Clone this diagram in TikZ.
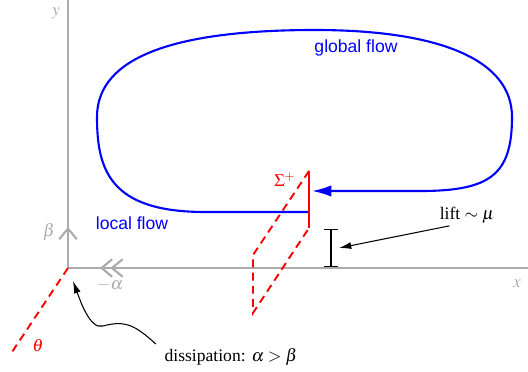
\documentclass[tikz,border=0pt]{standalone}
\usepackage{mathptmx}
\usepackage{fontspec}
\setmainfont{Liberation Serif}
\setsansfont{Liberation Sans}
\usetikzlibrary{arrows.meta}

\tikzset{
  axis/.style={draw=black!33,line width=1.2pt},
  axislabel/.style={text=black!33},
  flow/.style={draw=blue,line width=1.2pt},
  flowlabel/.style={text=blue,font=\sffamily},
  sheet/.style={draw=red,line width=1.1pt},
  proj/.style={sheet,dash pattern=on 4.5pt off 3pt},
  barb/.tip={Straight Barb[length=6pt,width=10pt]},
}

\begin{document}
\begin{tikzpicture}[x=0.02cm,y=-0.02cm]
  \useasboundingbox (0,0) rectangle (528,372);
  % axes
  \coordinate (O) at (68,268);
  \coordinate (ytip) at (68,0);
  \coordinate (xtip) at (528,268);
  \draw[axis] (O) -- (ytip);
  \draw[axis] (O) -- (xtip);
  \draw[axis,-barb] (68,245) -- (68,227);
  \draw[axis,-{Straight Barb[length=6pt,width=10pt,sep=-1.6pt]Straight Barb[length=6pt,width=10pt]}] (135,268) -- (100,268);
  \node[axislabel] (ylab) at (56,13) {$y$};
  \node[axislabel] (xlab) at (517,284) {$x$};
  \node[axislabel] (blab) at (49,232) {$\beta$};
  \node[axislabel] (alab) at (110,285) {$-\alpha$};
  % dissipation direction
  \coordinate (thetaend) at (12,352);
  \draw[proj] (O) -- (thetaend);
  \node[text=red] (tlab) at (38,346) {$\theta$};
  % the loop
  \draw[flow,-{Latex[length=11pt,width=6.5pt]}] (309,212) -- (205,212)
    .. controls (110,212) and (97,170) .. (97,117)
    .. controls (97,55) and (180,30) .. (315,30)
    .. controls (440,30) and (512,60) .. (512,117)
    .. controls (512,175) and (490,191) .. (420,191) -- (312,191);
  \node[flowlabel] (glob) at (356,48) {global flow};
  \node[flowlabel] (loc) at (132,223) {local flow};
  % section and its shadow
  \coordinate (stop) at (309,171);
  \coordinate (sbot) at (309,228);
  \coordinate (ptop) at (253,255);
  \coordinate (pbot) at (253,313);
  \draw[sheet] (stop) -- (sbot);
  \draw[proj] (stop) -- (ptop) -- (pbot) -- (sbot);
  \node[text=red] (sig) at (285,180) {$\Sigma^+$};
  % lift
  \coordinate (lfoot) at (331,267);
  \coordinate (lhead) at (331,229);
  \coordinate (lmid) at (339,248);
  \draw[line width=0.6pt,{Bar[width=7.5pt]}-{Bar[width=7.5pt]}] (lfoot) -- (lhead);
  \node (lift) at (467,215) {lift $\sim\mu$};
  \draw[line width=0.6pt,-{Latex[length=7pt,width=4pt]}] ([xshift=-10pt,yshift=2pt]lift.south) -- (lmid);
  % dissipation
  \node (diss) at (231,357) {dissipation: $\alpha>\beta$};
  \coordinate (Onear) at (73,281);
  \draw[line width=0.6pt,-{Latex[length=7pt,width=4pt]}] ([xshift=-1.5pt,yshift=-1pt]diss.north west)
    .. controls (135,325) and (125,320) .. (103,326)
    .. controls (90,330) and (80,300) .. (Onear);
\end{tikzpicture}
\end{document}
